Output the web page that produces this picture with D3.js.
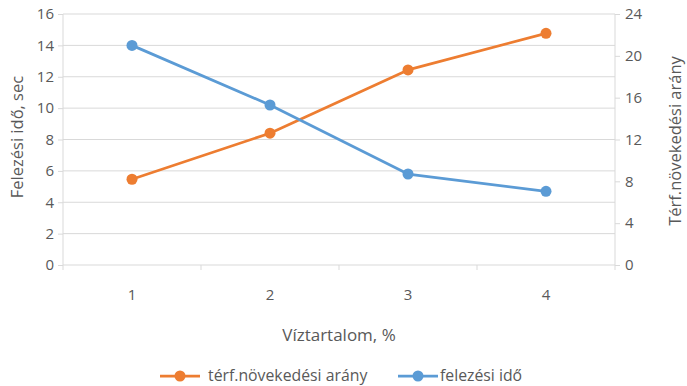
<!DOCTYPE html>
<html><head><meta charset="utf-8">
<script src="https://cdn.jsdelivr.net/npm/d3@7"></script>
<style>html,body{margin:0;padding:0;background:#fff;} svg{display:block;font-family:"Open Sans",Lato,sans-serif;}</style>
</head><body>
<svg id="c" width="687" height="386"></svg>
<script>
const categories = ["1","2","3","4"];
const terfValues = [8.2, 12.6, 18.65, 22.15];   // right axis
const felezesValues = [14.0, 10.2, 5.8, 4.7];    // left axis
const leftTicks = [0,2,4,6,8,10,12,14,16];
const rightTicks = [0,4,8,12,16,20,24];
const seriesNames = ["térf.növekedési arány","felezési idő"];
const colors = {terf:"#ED7D31", felez:"#5B9BD5"};

const svg = d3.select("#c");
const L=63, R=615, T=14, B=265;
const x = d3.scaleBand().domain(categories).range([L,R]);
const yL = d3.scaleLinear().domain([0,16]).range([B,T]);
const yR = d3.scaleLinear().domain([0,24]).range([B,T]);
const txt="#595959", grid="#D9D9D9";

// gridlines
svg.append("g").selectAll("line").data(leftTicks.slice(1)).join("line")
  .attr("x1",L).attr("x2",R).attr("y1",d=>yL(d)).attr("y2",d=>yL(d))
  .attr("stroke",grid).attr("stroke-width",1);

// left axis
const gl = svg.append("g").attr("transform",`translate(${L},0)`)
  .call(d3.axisLeft(yL).tickValues(leftTicks).tickSize(5).tickPadding(4));
gl.select(".domain").attr("stroke",grid).attr("d",`M0,${T}V${B}`);
gl.selectAll(".tick line").attr("stroke",grid);
gl.selectAll(".tick text").attr("fill",txt).style("font-size","15px").style("font-family","'Open Sans'");

// right axis
const gr = svg.append("g").attr("transform",`translate(${R},0)`)
  .call(d3.axisRight(yR).tickValues(rightTicks).tickSize(5).tickPadding(5));
gr.select(".domain").attr("stroke",grid).attr("d",`M0,${T}V${B}`);
gr.selectAll(".tick line").attr("stroke",grid);
gr.selectAll(".tick text").attr("fill",txt).style("font-size","15px").style("font-family","'Open Sans'");

// x axis
const gx = svg.append("g").attr("transform",`translate(0,${B})`)
  .call(d3.axisBottom(x).tickSize(0).tickPadding(24));
gx.select(".domain").attr("stroke",grid).attr("d",`M${L},0H${R}`);
gx.selectAll(".tick text").attr("fill",txt).style("font-size","15px").style("font-family","'Open Sans'");
// boundary ticks
const bounds = categories.map(c=>x(c)).slice(1);
gx.append("g").selectAll("line").data(bounds).join("line")
  .attr("x1",d=>d).attr("x2",d=>d).attr("y1",0).attr("y2",5).attr("stroke",grid);
gx.append("line").attr("x1",L).attr("x2",L).attr("y1",0).attr("y2",5).attr("stroke",grid);
gx.append("line").attr("x1",R).attr("x2",R).attr("y1",0).attr("y2",5).attr("stroke",grid);

const cx = c => x(c)+x.bandwidth()/2;

function drawSeries(vals, scale, color){
  const line = d3.line().x((d,i)=>cx(categories[i])).y(d=>scale(d));
  svg.append("path").datum(vals).attr("d",line).attr("fill","none")
    .attr("stroke",color).attr("stroke-width",2.75).attr("stroke-linejoin","round").attr("stroke-linecap","round");
  svg.append("g").selectAll("circle").data(vals).join("circle")
    .attr("cx",(d,i)=>cx(categories[i])).attr("cy",d=>scale(d)).attr("r",5.5).attr("fill",color);
}
drawSeries(terfValues, yR, colors.terf);
drawSeries(felezesValues, yL, colors.felez);

// axis titles
svg.append("text").attr("transform",`translate(23,137) rotate(-90)`).attr("text-anchor","middle")
  .attr("fill",txt).style("font-size","16.5px").text("Felezési idő, sec");
svg.append("text").attr("transform",`translate(681,141) rotate(-90)`).attr("text-anchor","middle")
  .attr("fill",txt).style("font-size","16.5px").text("Térf.növekedési arány");
svg.append("text").attr("x",339).attr("y",341).attr("text-anchor","middle")
  .attr("fill",txt).style("font-size","17px").text("Víztartalom, %");

// legend
const legendItems = [
  {name:seriesNames[0], color:colors.terf, x0:160, gap:48},
  {name:seriesNames[1], color:colors.felez, x0:398, gap:42}
];
const lg = svg.append("g").selectAll("g").data(legendItems).join("g");
lg.append("line").attr("x1",d=>d.x0).attr("x2",d=>d.x0+40).attr("y1",376).attr("y2",376)
  .attr("stroke",d=>d.color).attr("stroke-width",2.75);
lg.append("circle").attr("cx",d=>d.x0+20).attr("cy",376).attr("r",5.5).attr("fill",d=>d.color);
lg.append("text").attr("x",d=>d.x0+d.gap).attr("y",381).attr("fill",txt).style("font-size","15.8px").text(d=>d.name);
</script>
</body></html>
